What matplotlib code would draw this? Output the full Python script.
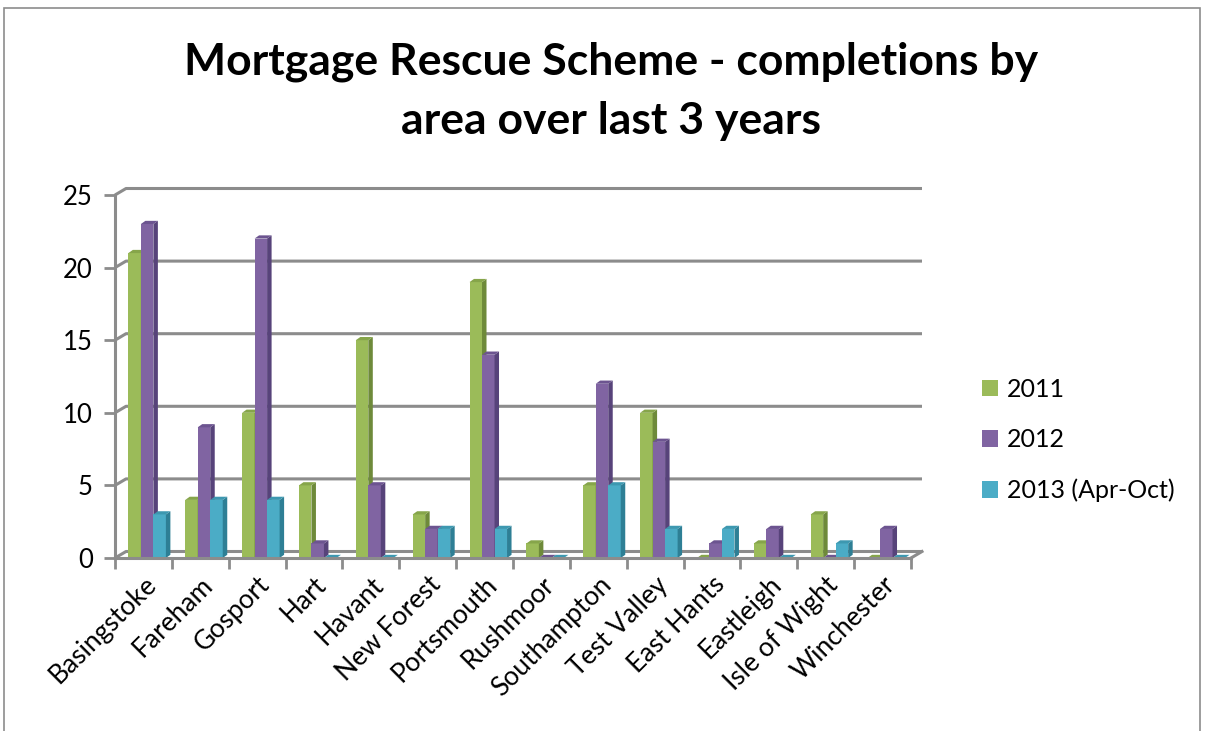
import matplotlib.pyplot as plt
from matplotlib.patches import Rectangle, Polygon
import numpy as np

areas = ["Basingstoke", "Fareham", "Gosport", "Hart", "Havant", "New Forest",
         "Portsmouth", "Rushmoor", "Southampton", "Test Valley", "East Hants",
         "Eastleigh", "Isle of Wight", "Winchester"]
y2011 = [21, 4, 10, 5, 15, 3, 19, 1, 5, 10, 0, 1, 3, 0]
y2012 = [23, 9, 22, 1, 5, 2, 14, 0, 12, 8, 1, 2, 0, 2]
y2013 = [3, 4, 4, 0, 0, 2, 2, 0, 5, 2, 2, 0, 1, 0]
series_names = ["2011", "2012", "2013 (Apr-Oct)"]

fronts = ["#9BBB59", "#8064A2", "#4BACC6"]
sides = ["#6E8A3A", "#57437A", "#2E7F95"]
tops = ["#86A54A", "#6C5490", "#3D98B0"]
grid_col = "#8C8C8C"

plt.rcParams['font.family'] = ['Lato', 'DejaVu Sans']

W, H = 1206, 731
fig = plt.figure(figsize=(W / 100, H / 100), dpi=100)

# outer chart border (Excel frame, cropped at bottom)
fig.patches.append(Rectangle((4 / W, -0.1), 1196 / W, 1.1 - 8 / H, transform=fig.transFigure,
                             fill=False, edgecolor="#8C8C8C", linewidth=1.2))

# axes placed on the front plane of the 3d box
x0, x1, yb, yt = 115, 911, 558, 195
ax = fig.add_axes([x0 / W, 1 - yb / H, (x1 - x0) / W, (yb - yt) / H])
n = len(areas)
ax.set_xlim(0, n)
ax.set_ylim(0, 25)

# depth offsets for back wall and bar sides (data units)
px_x = (x1 - x0) / n
px_y = (yb - yt) / 25
dxb, dyb = 11 / px_x, 6.5 / px_y
dxs, dys = 4.5 / px_x, 3.2 / px_y

# back wall gridlines with left wall diagonal
for v in range(0, 26, 5):
    ax.plot([0, dxb, n + dxb], [v, v + dyb, v + dyb], color=grid_col, lw=2.2,
            clip_on=False, zorder=1, solid_capstyle='butt')
ax.plot([n, n + dxb], [0, dyb], color=grid_col, lw=2.2, clip_on=False, zorder=1)

# bars
bw = 0.22
shift = 0.065
x = np.arange(n) + 0.5 + shift
for j, vals in enumerate([y2011, y2012, y2013]):
    xs = x + (j - 1) * bw
    ax.bar(xs, vals, width=bw, color=fronts[j], edgecolor='none', zorder=3 + j,
           label=series_names[j])
    for xi, v in zip(xs, vals):
        l, r = xi - bw / 2, xi + bw / 2
        ax.add_patch(Polygon([(r, 0), (r + dxs, dys), (r + dxs, v + dys), (r, v)],
                             closed=True, facecolor=sides[j], edgecolor='none',
                             zorder=3 + j, clip_on=False))
        ax.add_patch(Polygon([(l, v), (l + dxs, v + dys), (r + dxs, v + dys), (r, v)],
                             closed=True, facecolor=tops[j], edgecolor='none',
                             zorder=3 + j, clip_on=False))

# axes styling
for s in ["top", "right"]:
    ax.spines[s].set_visible(False)
for s in ["left", "bottom"]:
    ax.spines[s].set_color(grid_col)
    ax.spines[s].set_linewidth(2.2)
    ax.spines[s].set_zorder(8)
ax.set_facecolor('none')
ax.set_yticks(range(0, 26, 5))
ax.tick_params(axis='y', length=8, width=2, color=grid_col, labelsize=18.5, pad=8)
ax.set_xticks(np.arange(n + 1))
ax.set_xticklabels([])
ax.tick_params(axis='x', which='major', length=8, width=2, color=grid_col)
ax.set_xticks(np.arange(n) + 0.5, minor=True)
ax.set_xticklabels(areas, minor=True, rotation=45, ha='right', va='top',
                   rotation_mode='anchor', fontsize=19)
ax.tick_params(axis='x', which='minor', length=0, pad=10)

fig.text(611 / W, 1 - 62 / H, "Mortgage Rescue Scheme - completions by",
         ha='center', va='center', fontsize=32, fontweight='bold')
fig.text(611 / W, 1 - 121 / H, "area over last 3 years",
         ha='center', va='center', fontsize=32, fontweight='bold')

fig.legend(loc='center left', bbox_to_anchor=(982 / W, 1 - 440 / H), frameon=False,
           fontsize=18, handlelength=0.65, handleheight=0.65, handletextpad=0.35,
           labelspacing=1.1, borderpad=0, borderaxespad=0)

fig.savefig("out.png", dpi=100)
